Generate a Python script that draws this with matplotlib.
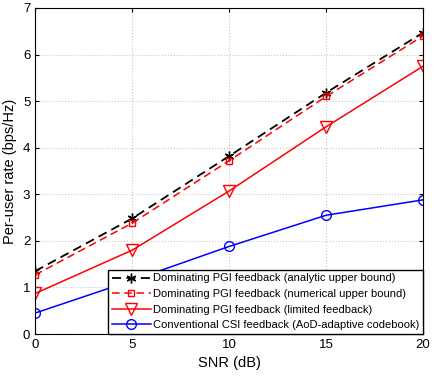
import matplotlib
matplotlib.use('Agg')
import matplotlib.pyplot as plt
import numpy as np

plt.rcParams['font.family'] = ['Liberation Sans', 'DejaVu Sans']

snr = [0, 5, 10, 15, 20]
analytic = [1.35, 2.48, 3.82, 5.18, 6.47]
numerical = [1.27, 2.38, 3.72, 5.10, 6.40]
limited = [0.87, 1.80, 3.07, 4.45, 5.75]
conventional = [0.45, 1.15, 1.88, 2.55, 2.88]

labels = ['Dominating PGI feedback (analytic upper bound)',
          'Dominating PGI feedback (numerical upper bound)',
          'Dominating PGI feedback (limited feedback)',
          'Conventional CSI feedback (AoD-adaptive codebook)']

fig = plt.figure(figsize=(4.34, 3.77), dpi=100)
ax = fig.add_axes([0.081, 0.114, 0.894, 0.865])

ax.plot(snr, analytic, 'k--', marker=(6, 2, 0), markersize=7, lw=1.3, dashes=(5, 3), label=labels[0])
ax.plot(snr, numerical, 'r--', marker='s', markersize=5, mfc='none', lw=1.1, dashes=(5, 3), label=labels[1])
ax.plot(snr, limited, 'r-', marker='v', markersize=8, mfc='none', lw=1.1, label=labels[2])
ax.plot(snr, conventional, 'b-', marker='o', markersize=7, mfc='none', lw=1.1, label=labels[3])

ax.set_xlim(0, 20)
ax.set_ylim(0, 7)
ax.set_xticks([0, 5, 10, 15, 20])
ax.set_yticks(range(8))
ax.grid(True, linestyle=':', color='#c8c8c8', lw=0.8)
ax.tick_params(direction='in', top=True, right=True, labelsize=9.5, length=3)
ax.set_xlabel('SNR (dB)', fontsize=10.5)
ax.set_ylabel('Per-user rate (bps/Hz)', fontsize=10.5)
ax.legend(loc='lower right', fontsize=8, fancybox=False, edgecolor='k',
          framealpha=1, borderaxespad=0, handlelength=3.5, labelspacing=0.5,
          borderpad=0.35, handletextpad=0.2)

fig.savefig('out.png')
